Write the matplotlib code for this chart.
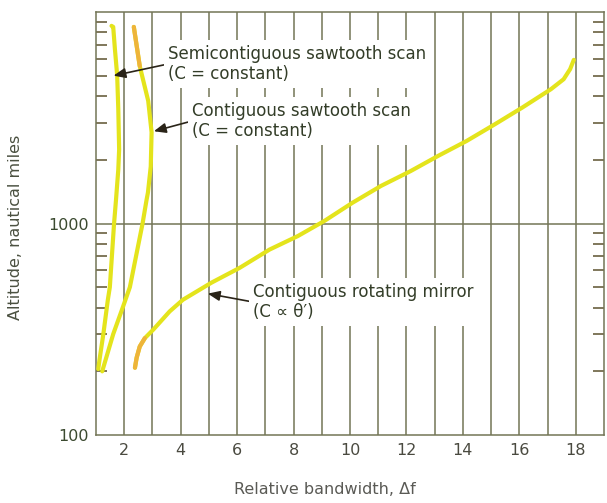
import numpy as np
import matplotlib.pyplot as plt
from matplotlib.ticker import LogLocator, NullFormatter, FixedLocator

plt.rcParams['font.family'] = ['DejaVu Sans']

# semicontiguous sawtooth scan, C = constant
semi_bw = [1.08, 1.12, 1.26, 1.42, 1.49, 1.64, 1.71, 1.79, 1.82, 1.79, 1.75, 1.67, 1.61, 1.55]
semi_alt = [205, 225, 300, 436, 500, 1000, 1300, 1800, 2240, 3470, 5020, 6680, 8500, 8600]

# contiguous sawtooth scan, C = constant
contig_bw = [1.22, 1.61, 1.96, 2.2, 2.65, 2.79, 2.84, 2.94, 2.97, 2.85, 2.55, 2.34]
contig_alt = [200, 300, 405, 500, 1000, 1290, 1400, 1860, 2700, 3800, 5550, 8500]

# contiguous rotating mirror, C proportional to theta'
mirror_bw = [2.38, 2.44, 2.55, 2.73, 3.03, 3.61, 4.08, 5.09, 6.09, 7.15, 8.15, 9.09,
             10.09, 11.1, 12.15, 13.13, 14.13, 15.13, 16.1, 17.12, 17.57, 17.8, 17.93]
mirror_alt = [208, 232, 262, 287, 315, 384, 436, 525, 617, 753, 872, 1028,
              1254, 1506, 1770, 2090, 2455, 2944, 3530, 4316, 4810, 5370, 5940]

x_ticks = [2, 4, 6, 8, 10, 12, 14, 16, 18]
grid_x = list(range(2, 19))

fig = plt.figure(figsize=(6.07, 5.03), dpi=100)
ax = fig.add_axes([96 / 607, 1 - 435 / 503, 508 / 607, 423 / 503])

grid_col = '#737556'
ink = '#333d28'
yellow = '#e4e41c'
orange = '#eeb43a'

ax.set_yscale('log')
ax.set_xlim(1, 19)
ax.set_ylim(100, 10000)

for gx in grid_x:
    ax.axvline(gx, color=grid_col, lw=1.1, zorder=1)
ax.axhline(1000, color=grid_col, lw=1.1, zorder=1)

ax.plot(semi_bw, semi_alt, color=yellow, lw=3, solid_capstyle='round', zorder=3)
ax.plot(contig_bw, contig_alt, color=yellow, lw=3, solid_capstyle='round', zorder=3)
ax.plot(contig_bw[-2:], contig_alt[-2:], color=orange, lw=3, solid_capstyle='round', zorder=3)
ax.plot(mirror_bw, mirror_alt, color=yellow, lw=3, solid_capstyle='round', zorder=3)
ax.plot(mirror_bw[:4], mirror_alt[:4], color=orange, lw=3, solid_capstyle='round', zorder=3)

for s in ax.spines.values():
    s.set_color(grid_col)
    s.set_linewidth(1.1)

ax.xaxis.set_major_locator(FixedLocator(x_ticks))
ax.set_xticklabels([str(t) for t in x_ticks])
ax.yaxis.set_major_locator(FixedLocator([100, 1000]))
ax.set_yticklabels(['100', '1000'])
ax.yaxis.set_minor_locator(LogLocator(base=10, subs=np.arange(2, 10)))
ax.yaxis.set_minor_formatter(NullFormatter())
ax.tick_params(axis='x', length=0, pad=6, labelsize=11.5, labelcolor='#4a4a40')
ax.tick_params(axis='y', which='major', length=0, pad=5, labelsize=11.5, labelcolor='#3b4a30')
ax.tick_params(axis='y', which='minor', direction='in', length=8, width=1.2,
               color='#6a6040', left=True, right=True)

# axis titles placed in figure pixels
fig.text(325 / 607, 1 - 490 / 503, 'Relative bandwidth, \u0394f', fontsize=11.5,
         color='#5a5a55', ha='center', va='center')
fig.text(16 / 607, 1 - 227 / 503, 'Altitude, nautical miles', fontsize=11.5,
         color='#4a5040', ha='center', va='center', rotation=90)

box = dict(facecolor='white', edgecolor='none', pad=3)
arrow = dict(arrowstyle='-|>,head_length=0.6,head_width=0.25', color='#2a2418',
             lw=1.2, shrinkA=0, shrinkB=0, relpos=(0, 0.5))

ax.annotate('Semicontiguous sawtooth scan\n(C = constant)', xy=(1.62, 5000),
            xytext=((168 - 96) / 508, (435 - 64) / 423), textcoords='axes fraction',
            ha='left', va='center', fontsize=12, color=ink, linespacing=1.2,
            bbox=box, arrowprops=arrow, zorder=5)
ax.annotate('Contiguous sawtooth scan\n(C = constant)', xy=(3.05, 2730),
            xytext=((192 - 96) / 508, (435 - 121) / 423), textcoords='axes fraction',
            ha='left', va='center', fontsize=12, color=ink, linespacing=1.2,
            bbox=box, arrowprops=arrow, zorder=5)
ax.annotate('Contiguous rotating mirror\n(C \u221d \u03b8\u2032)', xy=(4.96, 466),
            xytext=((253 - 96) / 508, (435 - 302) / 423), textcoords='axes fraction',
            ha='left', va='center', fontsize=12, color=ink, linespacing=1.2,
            bbox=box, arrowprops=arrow, zorder=5)

fig.savefig('out.png', dpi=100)
